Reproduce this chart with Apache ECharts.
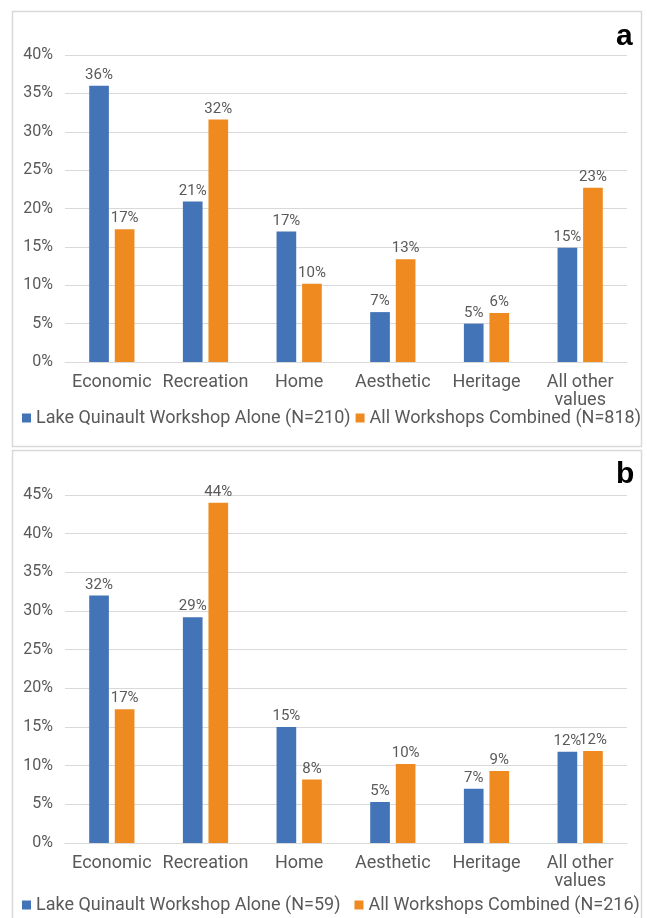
<!DOCTYPE html>
<html><head><meta charset="utf-8">
<script src="https://cdn.jsdelivr.net/npm/echarts@6/dist/echarts.min.js"></script>
<style>html,body{margin:0;padding:0;background:#fff}#c{width:647px;height:918px}</style>
</head><body><div id="c"></div>
<script>
const categories = ['Economic', 'Recreation', 'Home', 'Aesthetic', 'Heritage', 'All other\nvalues'];
const aLake = [36.0, 20.9, 17.0, 6.5, 5.0, 14.9];
const aAll = [17.3, 31.6, 10.2, 13.4, 6.4, 22.7];
const bLake = [32.0, 29.2, 15.0, 5.3, 7.0, 11.8];
const bAll = [17.3, 44.0, 8.2, 10.2, 9.3, 11.9];
const aNames = ['Lake Quinault Workshop Alone (N=210)', 'All Workshops Combined (N=818)'];
const bNames = ['Lake Quinault Workshop Alone (N=59)', 'All Workshops Combined (N=216)'];

const FONT = "Roboto,'Liberation Sans',sans-serif";
const BLUE = '#4374B8', ORANGE = '#EF8A20', TXT = '#595959';
const chart = echarts.init(document.getElementById('c'), null, {renderer: 'canvas'});

function xAx(i) {
  return {type: 'category', gridIndex: i, data: categories,
    axisLine: {lineStyle: {color: '#D9D9D9'}}, axisTick: {show: false},
    axisLabel: {color: TXT, fontFamily: FONT, fontSize: 18, margin: 11, lineHeight: 18, interval: 0}};
}
function yAx(i, max) {
  return {type: 'value', gridIndex: i, min: 0, max: max, interval: 5,
    axisLine: {show: false}, axisTick: {show: false},
    splitLine: {lineStyle: {color: '#D9D9D9'}},
    axisLabel: {color: TXT, fontFamily: FONT, fontSize: 16, formatter: '{value}%', margin: 12}};
}
function bar(name, data, i, color) {
  return {type: 'bar', name: name, data: data, xAxisIndex: i, yAxisIndex: i,
    barWidth: '21%', barGap: '30%', itemStyle: {color: color},
    label: {show: true, position: 'top', distance: 3, color: TXT, fontFamily: FONT, fontSize: 15,
      formatter: p => Math.round(p.value) + '%'}};
}
const legStyle = {color: TXT, fontFamily: FONT, fontSize: 18};
chart.setOption({
  animation: false,
  grid: [
    {left: 65, right: 20, top: 55, height: 307},
    {left: 65, right: 20, top: 495, height: 348}
  ],
  xAxis: [xAx(0), xAx(1)],
  yAxis: [yAx(0, 40), yAx(1, 45)],
  legend: [
    {data: aNames, left: 22, top: 409, width: 625, itemWidth: 9, itemHeight: 9, itemGap: 5, icon: 'rect', textStyle: legStyle, padding: 0},
    {data: bNames, left: 22, top: 896, width: 625, itemWidth: 9, itemHeight: 9, itemGap: 14, icon: 'rect', textStyle: legStyle, padding: 0}
  ],
  series: [
    bar(aNames[0], aLake, 0, BLUE), bar(aNames[1], aAll, 0, ORANGE),
    bar(bNames[0], bLake, 1, BLUE), bar(bNames[1], bAll, 1, ORANGE)
  ],
  graphic: [
    {type: 'rect', shape: {x: 12.5, y: 11.5, width: 629, height: 435}, style: {fill: 'none', stroke: '#D9D9D9', lineWidth: 1.5}},
    {type: 'rect', shape: {x: 12.5, y: 450.5, width: 629, height: 470}, style: {fill: 'none', stroke: '#D9D9D9', lineWidth: 1.5}},
    {type: 'text', left: 616, top: 22, style: {text: 'a', font: "bold 30px 'Liberation Sans',Arial,sans-serif", fill: '#000'}},
    {type: 'text', left: 616, top: 460, style: {text: 'b', font: "bold 30px 'Liberation Sans',Arial,sans-serif", fill: '#000'}}
  ]
});
</script></body></html>
